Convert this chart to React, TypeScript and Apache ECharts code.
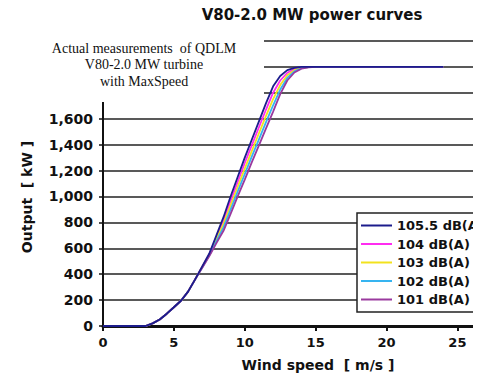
import React, { useEffect, useRef } from "react";
import * as echarts from "echarts";

const windSpeeds = [0, 1, 2, 3, 3.5, 4, 4.5, 5, 5.5, 6, 6.5, 7, 7.5, 8, 8.5, 9, 9.5, 10, 10.5, 11, 11.5, 12, 12.5, 13, 13.5, 14, 14.5, 15, 16, 17, 18, 19, 20, 21, 22, 23, 24];

const db1055 = [0, 0, 0, 0, 20, 50, 95, 145, 195, 265, 360, 460, 560, 700, 840, 1000, 1150, 1300, 1440, 1580, 1720, 1850, 1930, 1975, 1993, 2000, 2000, 2000, 2000, 2000, 2000, 2000, 2000, 2000, 2000, 2000, 2000];
const db104 = [0, 0, 0, 0, 20, 50, 95, 145, 195, 265, 360, 458, 555, 685, 814, 966, 1112, 1258, 1396, 1534, 1671, 1801, 1895, 1955, 1984, 1997, 2000, 2000, 2000, 2000, 2000, 2000, 2000, 2000, 2000, 2000, 2000];
const db103 = [0, 0, 0, 0, 20, 50, 95, 145, 195, 265, 360, 455, 550, 670, 788, 932, 1075, 1215, 1352, 1488, 1622, 1752, 1860, 1935, 1975, 1993, 1999, 2000, 2000, 2000, 2000, 2000, 2000, 2000, 2000, 2000, 2000];
const db102 = [0, 0, 0, 0, 20, 50, 95, 145, 195, 265, 360, 452, 545, 655, 761, 899, 1038, 1172, 1309, 1441, 1574, 1704, 1825, 1915, 1966, 1990, 1998, 2000, 2000, 2000, 2000, 2000, 2000, 2000, 2000, 2000, 2000];
const db101 = [0, 0, 0, 0, 20, 50, 95, 145, 195, 265, 360, 450, 540, 640, 735, 865, 1000, 1130, 1265, 1395, 1525, 1655, 1790, 1895, 1957, 1986, 1997, 2000, 2000, 2000, 2000, 2000, 2000, 2000, 2000, 2000, 2000];

const seriesNames = ["105.5 dB(A)", "104 dB(A)", "103 dB(A)", "102 dB(A)", "101 dB(A)"];
const seriesValues = [db1055, db104, db103, db102, db101];
const seriesColors = ["#1c1c8c", "#ff2cf0", "#f2e21e", "#36b4f0", "#9a3a9e"];

const xTicks = [0, 5, 10, 15, 20, 25];

const titleText = "V80-2.0 MW power curves";
const xName = "Wind speed  [ m/s ]";
const yName = "Output  [ kW ]";
const noteLines = ["Actual measurements  of QDLM", "V80-2.0 MW turbine", "with MaxSpeed"];

const BOLD = "DejaVu Sans";

export default function App() {
  const ref = useRef<HTMLDivElement>(null);
  useEffect(() => {
    if (!ref.current) return;
    const chart = echarts.init(ref.current, null, { renderer: "svg" });
    const series = seriesNames.map((name, i) => ({
      name,
      type: "line",
      data: windSpeeds.map((w, j) => [w, seriesValues[i][j]]),
      symbol: "none",
      showSymbol: false,
      z: i === 0 ? 4 : 3,
      lineStyle: { color: seriesColors[i], width: 1.8 },
      itemStyle: { color: seriesColors[i] },
    }));
    chart.setOption({
      animation: false,
      backgroundColor: "#fff",
      grid: { left: 103, right: 0, top: 41, bottom: 53 },
      xAxis: {
        type: "value",
        min: 0,
        max: 26.1,
        interval: 5,
        axisLine: { show: true, lineStyle: { color: "#111", width: 3 } },
        axisTick: { show: true, length: 5, lineStyle: { color: "#111", width: 2 }, customValues: xTicks },
        axisLabel: {
          customValues: xTicks,
          margin: 10,
          color: "#111",
          fontFamily: BOLD,
          fontWeight: "bold",
          fontSize: 13,
        },
        splitLine: { show: false },
      },
      yAxis: {
        type: "value",
        min: 0,
        max: 2200,
        interval: 200,
        axisLine: { show: true, lineStyle: { color: "#111", width: 2 } },
        axisTick: { show: true, length: 4, lineStyle: { color: "#111", width: 1.5 } },
        axisLabel: {
          margin: 10,
          color: "#111",
          fontFamily: BOLD,
          fontWeight: "bold",
          fontSize: 14,
          formatter: (v: number) => (v > 1600 ? "" : v.toLocaleString("en-US")),
        },
        splitLine: { show: true, lineStyle: { color: "#222", width: 1.5 } },
      },
      legend: {
        orient: "vertical",
        left: 357,
        top: 213,
        padding: [5.5, 4, 5.5, 4],
        itemWidth: 31,
        itemHeight: 14,
        itemGap: 4.5,
        icon: "path://M0,0 L31,0 L31,2 L0,2 Z",
        borderColor: "#222",
        borderWidth: 1.5,
        backgroundColor: "#fff",
        textStyle: { color: "#111", fontFamily: BOLD, fontWeight: "bold", fontSize: 13, lineHeight: 14 },
        data: seriesNames,
      },
      series,
      graphic: [
        { type: "rect", z: 100, shape: { x: 0, y: 28, width: 264, height: 74 }, style: { fill: "#fff" } },
        {
          type: "text",
          z: 101,
          x: 312,
          y: 15,
          style: { text: titleText, fill: "#111", font: `bold 15px "${BOLD}"`, align: "center", verticalAlign: "middle" },
        },
        ...noteLines.map((t, i) => ({
          type: "text",
          z: 101,
          x: 144,
          y: 48 + i * 16.5,
          style: { text: t, fill: "#111", font: `14px "Liberation Serif"`, align: "center", verticalAlign: "middle" },
        })),
        {
          type: "text",
          z: 101,
          x: 318,
          y: 365,
          style: { text: xName, fill: "#111", font: `bold 14px "${BOLD}"`, align: "center", verticalAlign: "middle" },
        },
        {
          type: "text",
          z: 101,
          x: 27,
          y: 197,
          rotation: Math.PI / 2,
          style: { text: yName, fill: "#111", font: `bold 14px "${BOLD}"`, align: "center", verticalAlign: "middle" },
        },
      ],
    });
    return () => chart.dispose();
  }, []);
  return <div ref={ref} style={{ position: "fixed", left: 0, top: 0, width: 473, height: 379 }} />;
}
